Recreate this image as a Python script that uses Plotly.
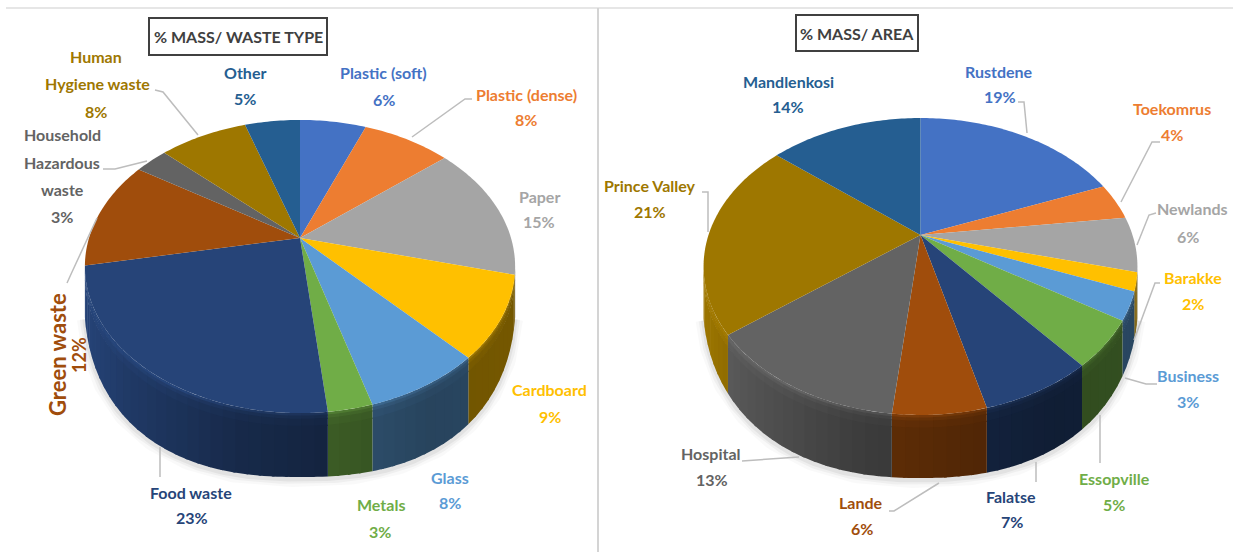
import numpy as np
import plotly.graph_objects as go

# ---------- data ----------
waste_names = ["Plastic (soft)", "Plastic (dense)", "Paper", "Cardboard", "Glass", "Metals",
               "Food waste", "Green waste", "Household Hazardous waste", "Human Hygiene waste", "Other"]
waste_values = [6, 8, 15, 9, 7.5, 2.8, 23.7, 12, 3, 8, 5]
area_names = ["Rustdene", "Toekomrus", "Newlands", "Barakke", "Business", "Essopville",
              "Falatse", "Lande", "Hospital", "Prince Valley", "Mandlenkosi"]
area_values = [19, 4, 6, 2, 3, 5, 7, 5.7, 12.8, 21.5, 14]
colors = ["#4472C4", "#ED7D31", "#A5A5A5", "#FFC000", "#5B9BD5", "#70AD47",
          "#264478", "#A04D0C", "#636363", "#9E7700", "#255E91"]

# ---------- label layout: (colour index, text lines with centre positions) ----------
waste_labels = [
    (0, [("Plastic (soft)", 383, 72), ("6%", 384, 99)]),
    (1, [("Plastic (dense)", 526, 94), ("8%", 526, 119)]),
    (2, [("Paper", 539, 196), ("15%", 539, 221)]),
    (3, [("Cardboard", 549, 389), ("9%", 550, 416)]),
    (4, [("Glass", 450, 477), ("8%", 450, 502)]),
    (5, [("Metals", 381, 504), ("3%", 380, 531)]),
    (6, [("Food waste", 191, 492), ("23%", 192, 517)]),
    (8, [("Household", 62, 134), ("Hazardous", 62, 162), ("waste", 62, 189), ("3%", 62, 216)]),
    (9, [("Human", 96, 56), ("Hygiene waste", 97, 83), ("8%", 96, 111)]),
    (10, [("Other", 245, 72), ("5%", 245, 98)]),
]
area_labels = [
    (0, [("Rustdene", 999, 71), ("19%", 1000, 96)]),
    (1, [("Toekomrus", 1172, 108), ("4%", 1172, 134)]),
    (2, [("Newlands", 1192, 208), ("6%", 1188, 236)]),
    (3, [("Barakke", 1193, 277), ("2%", 1193, 303)]),
    (4, [("Business", 1188, 375), ("3%", 1188, 401)]),
    (5, [("Essopville", 1114, 478), ("5%", 1114, 504)]),
    (6, [("Falatse", 1011, 496), ("7%", 1012, 521)]),
    (7, [("Lande", 861, 502), ("6%", 862, 528)]),
    (8, [("Hospital", 711, 453), ("13%", 712, 479)]),
    (9, [("Prince Valley", 650, 185), ("21%", 650, 211)]),
    (10, [("Mandlenkosi", 788, 81), ("14%", 788, 106)]),
]
leaders = [
    [(155, 90), (163, 92), (198, 135)],
    [(103, 169), (115, 169), (147, 161)],
    [(412, 137), (465, 99), (472, 99)],
    [(67, 283), (72, 272), (97, 218)],
    [(160, 447), (160, 477)],
    [(702, 192), (708, 192), (708, 232)],
    [(1018, 102), (1024, 102), (1027, 133)],
    [(1160, 142), (1152, 142), (1121, 202)],
    [(1156, 213), (1149, 215), (1137, 245)],
    [(1160, 283), (1155, 283), (1134, 340)],
    [(1125, 378), (1146, 384), (1157, 384)],
    [(1100, 415), (1100, 463)],
    [(1036, 462), (1036, 482)],
    [(889, 511), (894, 511), (939, 483)],
    [(742, 461), (799, 457)],
]

FONT = "Lato"
fig = go.Figure()


def rgb(hexc, f):
    c = [int(hexc[i:i + 2], 16) for i in (1, 3, 5)]
    return "rgb(%d,%d,%d)" % tuple(min(255, int(x * f)) for x in c)


class Pie3D:
    def __init__(self, cx, cy, rx, ry, k, a, yc, b, p):
        self.cx, self.cy, self.rx, self.ry, self.k = cx, cy, rx, ry, k
        self.a, self.yc, self.b, self.p = a, yc, b, p

    def top(self, th):
        u, v = np.sin(th), -np.cos(th)
        w = 1 - self.k * v
        return self.cx + self.rx * u / w, self.cy + self.ry * v / w

    def low(self, x, ytop):
        t = np.clip(np.abs(x - self.cx) / self.a, 0, 1)
        y = self.yc + self.b * (1 - t ** self.p) ** (1 / self.p)
        return np.maximum(y, ytop)


def poly(xs, ys, color):
    fig.add_trace(go.Scatter(x=list(xs), y=list(ys), mode="none", fill="toself", fillcolor=color,
                             hoverinfo="skip", showlegend=False))


def shade(u):
    return np.interp(u, [-1, -0.8, -0.3, 0.3, 0.6, 1], [1.0, 0.85, 0.62, 0.5, 0.44, 0.46])


BANDS = [(0, 0.04, 1.35), (0.04, 0.09, 1.15), (0.09, 0.2, 1.05), (0.2, 1, 1.0)]


def draw(pie, values):
    total = sum(values)
    edges = np.cumsum([0] + list(values)) / total * 2 * np.pi
    lim0, lim1 = np.pi - np.arccos(pie.k), np.pi + np.arccos(pie.k)
    # soft ground shadow
    th = np.linspace(lim0, lim1, 200)
    xt, yt = pie.top(th)
    yl = pie.low(xt, yt)
    for w, al in [(16, 0.025), (10, 0.04), (5, 0.05)]:
        fig.add_trace(go.Scatter(x=xt, y=yl + 2, mode="lines", line=dict(color="rgba(0,0,0,%g)" % al, width=w),
                                 hoverinfo="skip", showlegend=False))
    # side walls
    step = np.radians(3)
    overlap = np.radians(0.6)
    for i in range(len(values)):
        a0, a1 = max(edges[i], lim0), min(edges[i + 1], lim1)
        if a1 <= a0:
            continue
        n = max(1, int(np.ceil((a1 - a0) / step)))
        ss = np.linspace(a0, a1, n + 1)
        for s0, s1 in zip(ss[:-1], ss[1:]):
            ang = np.linspace(s0, min(s1 + overlap, a1), 4)
            xx, yy = pie.top(ang)
            ll = pie.low(xx, yy)
            base = shade((xx.mean() - pie.cx) / pie.a)
            depth = ll - yy
            for f0, f1, m in BANDS:
                y0 = yy + depth * f0
                y1 = np.minimum(yy + depth * f1 + 1, ll)
                poly(np.r_[xx, xx[::-1]], np.r_[y0, y1[::-1]], rgb(colors[i], min(1.02, base * m)))
    # top face
    for i in range(len(values)):
        ang = np.linspace(edges[i], edges[i + 1], max(3, int((edges[i + 1] - edges[i]) / np.radians(1))))
        xx, yy = pie.top(ang)
        poly(np.r_[pie.cx, xx, pie.cx], np.r_[pie.cy, yy, pie.cy], colors[i])


draw(Pie3D(300, 238, 211, 141, 0.1945, 216, 290, 187, 2.4), waste_values)
draw(Pie3D(920.5, 235, 212, 141.8, 0.212, 218, 292, 186, 2.3), area_values)

annotations = []


def text(t, x, y, color, size=16, angle=0):
    annotations.append(dict(text=t, x=x, y=y, xref="x", yref="y", showarrow=False, xanchor="center",
                            yanchor="middle", textangle=angle,
                            font=dict(family=FONT, size=size, color=color, weight="bold")))


for labels in (waste_labels, area_labels):
    for idx, rows in labels:
        for t, x, y in rows:
            text(t, x, y, colors[idx])
text("Green waste", 57, 355, colors[7], size=22, angle=-90)
text("12%", 79, 355, colors[7], size=18, angle=-90)
text("% MASS/ WASTE TYPE", 238, 36, "#404040", size=16)
text("% MASS/ AREA", 857, 33, "#404040", size=16)

shapes = [
    dict(type="line", x0=6, x1=1233, y0=8, y1=8, line=dict(color="#e6e6e6", width=2), layer="below"),
    dict(type="line", x0=598, x1=598, y0=8, y1=552, line=dict(color="#d4d4d4", width=2), layer="below"),
    dict(type="rect", x0=149, x1=327, y0=18, y1=55, line=dict(color="#404040", width=2), fillcolor="white"),
    dict(type="rect", x0=796, x1=918, y0=15, y1=51, line=dict(color="#404040", width=2), fillcolor="white"),
]
for pts in leaders:
    path = "M" + " L".join("%g,%g" % p for p in pts)
    shapes.append(dict(type="path", path=path, line=dict(color="#bdbdbd", width=1.5)))

fig.update_layout(
    width=1233, height=552, margin=dict(l=0, r=0, t=0, b=0),
    paper_bgcolor="white", plot_bgcolor="white", showlegend=False,
    xaxis=dict(range=[0, 1233], visible=False, fixedrange=True),
    yaxis=dict(range=[552, 0], visible=False, fixedrange=True),
    shapes=shapes, annotations=annotations,
)
fig.write_html("out.html", config={"displayModeBar": False},
               post_script="document.body.style.margin='0';")
